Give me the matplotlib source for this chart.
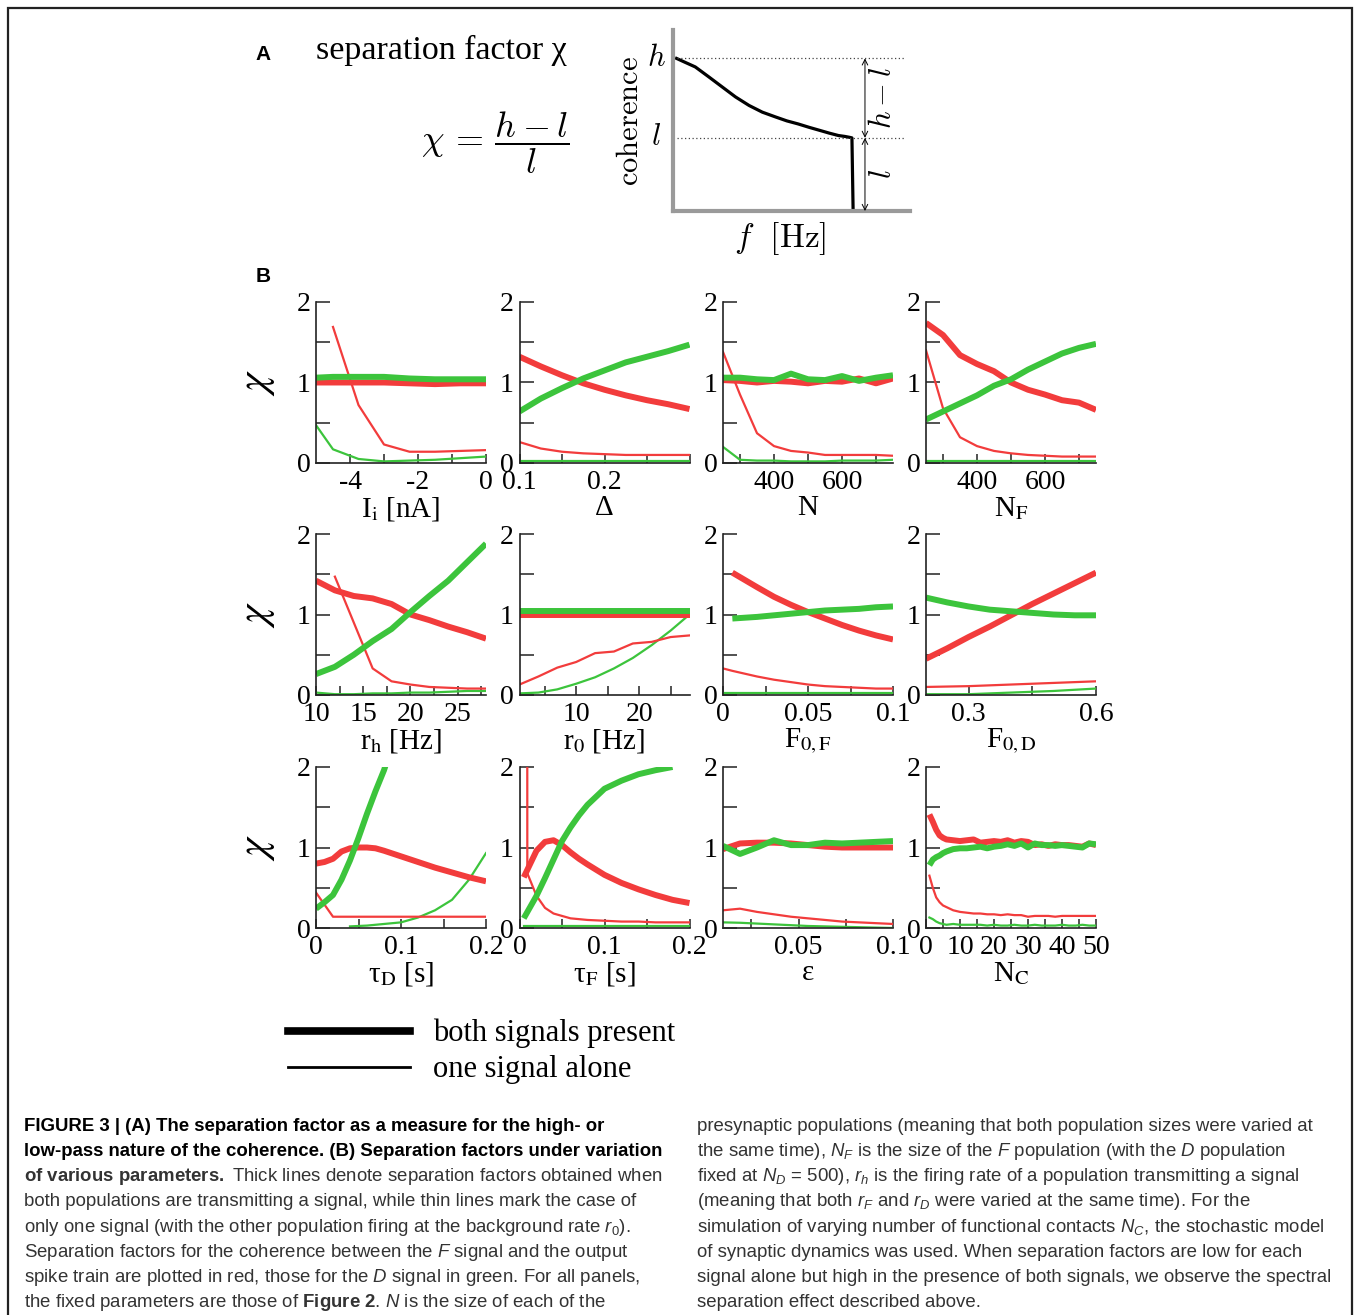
import matplotlib
matplotlib.use('Agg')
import matplotlib.pyplot as plt
import numpy as np
from matplotlib.lines import Line2D
from matplotlib.patches import Rectangle

plt.rcParams['font.family'] = ['Liberation Serif', 'DejaVu Serif']
plt.rcParams['mathtext.fontset'] = 'custom'
plt.rcParams['mathtext.rm'] = 'Liberation Sans'
plt.rcParams['mathtext.it'] = 'Liberation Sans:italic'
plt.rcParams['mathtext.bf'] = 'Liberation Sans:bold'

nan = np.nan

# ---------------- DATA ----------------
# Panel A: schematic coherence curve
coh_f = [0.015, 0.05, 0.094, 0.151, 0.208, 0.264, 0.321, 0.377, 0.434, 0.48, 0.528, 0.575, 0.623, 0.66,
         0.698, 0.725, 0.745, 0.755, 0.760]
coh_val = [0.843, 0.822, 0.796, 0.741, 0.685, 0.630, 0.583, 0.546, 0.519, 0.498, 0.481, 0.462, 0.444, 0.43,
           0.417, 0.412, 0.407, 0.404, 0.0]
h_level = 0.843
l_level = 0.404

# I_i
ii_x = [-5.0, -4.5, -3.75, -3.0, -2.25, -1.5, -0.75, 0.0]
ii_red_both = [1.0, 1.0, 1.0, 1.0, 0.99, 0.98, 0.99, 0.99]
ii_green_both = [1.06, 1.07, 1.07, 1.07, 1.05, 1.04, 1.04, 1.04]
ii_red_one = [nan, 1.69, 0.72, 0.23, 0.14, 0.14, 0.15, 0.16]
ii_green_one = [0.47, 0.17, 0.05, 0.02, 0.03, 0.04, 0.06, 0.08]

# Delta
dl_x = [0.1, 0.125, 0.15, 0.175, 0.2, 0.225, 0.25, 0.275, 0.3]
dl_red_both = [1.32, 1.2, 1.09, 0.99, 0.91, 0.84, 0.78, 0.73, 0.67]
dl_green_both = [0.64, 0.8, 0.93, 1.05, 1.15, 1.25, 1.32, 1.39, 1.47]
dl_red_one = [0.26, 0.18, 0.14, 0.12, 0.11, 0.1, 0.1, 0.1, 0.1]
dl_green_one = [0.03, 0.03, 0.03, 0.03, 0.03, 0.03, 0.03, 0.03, 0.03]

# N
n_x = [250, 300, 350, 400, 450, 500, 550, 600, 650, 700, 750]
n_red_both = [1.03, 1.02, 1.0, 1.02, 1.01, 0.99, 1.02, 1.01, 1.05, 0.99, 1.05]
n_green_both = [1.06, 1.06, 1.04, 1.03, 1.11, 1.04, 1.03, 1.08, 1.02, 1.06, 1.09]
n_red_one = [1.38, 0.85, 0.37, 0.21, 0.15, 0.13, 0.1, 0.1, 0.1, 0.1, 0.09]
n_green_one = [0.2, 0.04, 0.03, 0.03, 0.02, 0.02, 0.02, 0.03, 0.03, 0.03, 0.04]

# N_F
nf_x = [250, 300, 350, 400, 450, 500, 550, 600, 650, 700, 750]
nf_red_both = [1.74, 1.59, 1.34, 1.23, 1.14, 1.0, 0.91, 0.85, 0.78, 0.75, 0.66]
nf_green_both = [0.54, 0.64, 0.74, 0.84, 0.96, 1.04, 1.16, 1.26, 1.36, 1.43, 1.48]
nf_red_one = [1.4, 0.68, 0.32, 0.21, 0.15, 0.12, 0.1, 0.09, 0.08, 0.08, 0.08]
nf_green_one = [0.03, 0.03, 0.03, 0.03, 0.03, 0.03, 0.03, 0.03, 0.03, 0.03, 0.03]

# r_h
rh_x = [10, 12, 14, 16, 18, 20, 22, 24, 26, 28]
rh_red_both = [1.42, 1.3, 1.23, 1.2, 1.13, 1.0, 0.93, 0.85, 0.78, 0.7]
rh_green_both = [0.26, 0.35, 0.5, 0.67, 0.82, 1.03, 1.23, 1.42, 1.65, 1.88]
rh_red_one = [nan, 1.47, 0.9, 0.33, 0.17, 0.13, 0.1, 0.09, 0.08, 0.08]
rh_green_one = [0.03, 0.01, 0.01, 0.02, 0.02, 0.03, 0.03, 0.04, 0.05, 0.05]

# r_0
r0_x = [1, 4, 7, 10, 13, 16, 19, 22, 25, 28]
r0_red_both = [0.99, 0.99, 0.99, 0.99, 0.99, 0.99, 0.99, 0.99, 0.99, 0.99]
r0_green_both = [1.04, 1.04, 1.04, 1.04, 1.04, 1.04, 1.04, 1.04, 1.04, 1.04]
r0_red_one = [0.13, 0.23, 0.34, 0.41, 0.52, 0.54, 0.64, 0.66, 0.72, 0.74]
r0_green_one = [0.02, 0.03, 0.07, 0.14, 0.22, 0.33, 0.46, 0.62, 0.8, 1.0]

# F_0,F
f0f_x = [0.0, 0.0055, 0.02, 0.03, 0.04, 0.05, 0.06, 0.07, 0.08, 0.09, 0.1]
f0f_red_both = [nan, 1.52, 1.34, 1.22, 1.12, 1.03, 0.95, 0.87, 0.8, 0.74, 0.69]
f0f_green_both = [nan, 0.95, 0.97, 0.99, 1.01, 1.03, 1.05, 1.06, 1.07, 1.09, 1.1]
f0f_red_one = [0.33, 0.3, 0.23, 0.19, 0.16, 0.13, 0.11, 0.1, 0.09, 0.08, 0.08]
f0f_green_one = [0.02, 0.02, 0.02, 0.02, 0.02, 0.02, 0.02, 0.02, 0.02, 0.02, 0.02]

# F_0,D
f0d_x = [0.2, 0.25, 0.3, 0.35, 0.4, 0.45, 0.5, 0.55, 0.6]
f0d_red_both = [0.45, 0.58, 0.72, 0.85, 0.99, 1.13, 1.26, 1.39, 1.52]
f0d_green_both = [1.21, 1.15, 1.1, 1.06, 1.04, 1.02, 1.0, 0.99, 0.99]
f0d_red_one = [0.1, 0.105, 0.11, 0.12, 0.13, 0.14, 0.15, 0.16, 0.17]
f0d_green_one = [0.01, 0.01, 0.01, 0.02, 0.03, 0.04, 0.05, 0.065, 0.08]

# tau_D
td_x = [0.0, 0.01, 0.02, 0.03, 0.04, 0.05, 0.06, 0.07, 0.08, 0.1, 0.12, 0.14, 0.16, 0.18, 0.2]
td_red_both = [0.8, 0.82, 0.86, 0.95, 0.99, 1.0, 1.0, 0.99, 0.96, 0.89, 0.82, 0.75, 0.69, 0.63, 0.58]
td_green_both = [0.24, 0.32, 0.41, 0.6, 0.84, 1.12, 1.42, 1.7, 1.96, 2.6, nan, nan, nan, nan, nan]
td_red_one = [0.44, 0.29, 0.14, 0.14, 0.14, 0.14, 0.14, 0.14, 0.14, 0.14, 0.14, 0.14, 0.14, 0.14, 0.14]
td_green_one = [nan, nan, nan, nan, 0.02, 0.025, 0.03, 0.04, 0.05, 0.07, 0.13, 0.22, 0.35, 0.6, 0.93]

# tau_F
tf_x_both = [0.005, 0.02, 0.03, 0.04, 0.05, 0.06, 0.07, 0.08, 0.1, 0.12, 0.14, 0.16, 0.18, 0.2]
tf_red_both = [0.63, 0.96, 1.07, 1.09, 1.03, 0.94, 0.86, 0.79, 0.66, 0.56, 0.48, 0.41, 0.35, 0.31]
tf_green_both = [0.12, 0.4, 0.62, 0.85, 1.08, 1.25, 1.4, 1.53, 1.73, 1.83, 1.91, 1.96, 2.0, nan]
tf_green_one = [0.03, 0.03, 0.03, 0.03, 0.03, 0.03, 0.03, 0.03, 0.03, 0.03, 0.03, 0.03, 0.03, 0.03]
tf_x_one = [0.009, 0.0092, 0.02, 0.03, 0.04, 0.06, 0.08, 0.1, 0.12, 0.14, 0.16, 0.18, 0.2]
tf_red_one = [6.0, 0.68, 0.4, 0.25, 0.18, 0.12, 0.1, 0.09, 0.08, 0.08, 0.07, 0.07, 0.07]

# epsilon
ep_x = [0.01, 0.019, 0.028, 0.037, 0.046, 0.055, 0.064, 0.073, 0.082, 0.091, 0.1]
ep_red_both = [0.98, 1.05, 1.06, 1.06, 1.05, 1.03, 1.01, 1.0, 1.0, 1.0, 1.0]
ep_green_both = [1.02, 0.92, 1.0, 1.09, 1.03, 1.03, 1.06, 1.05, 1.06, 1.07, 1.08]
ep_red_one = [0.22, 0.24, 0.2, 0.17, 0.14, 0.12, 0.1, 0.08, 0.07, 0.06, 0.05]
ep_green_one = [0.07, 0.065, 0.055, 0.045, 0.035, 0.025, 0.02, 0.015, 0.01, 0.005, 0.0]

# N_C
nc_x = [1, 2, 3, 4, 5, 6, 8, 10, 12, 14, 16, 18, 20, 22, 24, 26, 28, 30, 32, 34, 36, 38, 40, 42, 44, 46, 48, 50]
nc_red_both = [1.41, 1.32, 1.22, 1.15, 1.12, 1.1, 1.09, 1.08, 1.09, 1.1, 1.06, 1.07, 1.08, 1.07, 1.09, 1.06,
               1.08, 1.07, 1.03, 1.04, 1.02, 1.04, 1.03, 1.03, 1.02, 1.01, 1.05, 1.03]
nc_green_both = [0.78, 0.85, 0.88, 0.9, 0.93, 0.95, 0.98, 0.99, 0.99, 1.0, 1.01, 0.99, 1.01, 1.02, 1.04, 1.02,
                 1.05, 1.0, 1.05, 1.03, 1.03, 1.02, 1.03, 1.02, 1.01, 1.0, 1.05, 1.04]
nc_red_one = [0.65, 0.5, 0.38, 0.32, 0.28, 0.26, 0.22, 0.2, 0.19, 0.18, 0.18, 0.17, 0.17, 0.16, 0.17, 0.16,
              0.16, 0.14, 0.15, 0.15, 0.15, 0.14, 0.15, 0.15, 0.15, 0.15, 0.15, 0.15]
nc_green_one = [0.13, 0.11, 0.08, 0.06, 0.05, 0.04, 0.05, 0.04, 0.04, 0.04, 0.04, 0.03, 0.04, 0.03, 0.03, 0.04,
                0.03, 0.03, 0.04, 0.03, 0.03, 0.03, 0.04, 0.03, 0.03, 0.04, 0.03, 0.03]

# axis labels, limits, ticks
x_labels = ['I$_\\mathrm{i}$ [nA]', 'Δ', 'N', 'N$_\\mathrm{F}$',
            'r$_\\mathrm{h}$ [Hz]', 'r$_\\mathrm{0}$ [Hz]', 'F$_\\mathrm{0,F}$', 'F$_\\mathrm{0,D}$',
            'τ$_\\mathrm{D}$ [s]', 'τ$_\\mathrm{F}$ [s]', 'ε', 'N$_\\mathrm{C}$']
x_limits = [(-5, 0), (0.1, 0.3), (250, 750), (250, 750),
            (10, 28), (1, 28), (0, 0.1), (0.2, 0.6),
            (0, 0.2), (0, 0.2), (0.01, 0.1), (0, 50)]
x_ticks = [[-4, -3, -2, -1, 0], [0.1, 0.15, 0.2, 0.25, 0.3], [300, 400, 500, 600, 700], [300, 400, 500, 600, 700],
           [10, 12.5, 15, 17.5, 20, 22.5, 25, 27.5], [5, 10, 15, 20, 25], [0, 0.025, 0.05, 0.075, 0.1], [0.3, 0.45, 0.6],
           [0, 0.05, 0.1, 0.15, 0.2], [0, 0.05, 0.1, 0.15, 0.2], [0.025, 0.05, 0.075, 0.1], [0, 5, 10, 15, 20, 25, 30, 35, 40, 45, 50]]
x_ticklabels = [['-4', '', '-2', '', '0'], ['0.1', '', '0.2', '', ''], ['', '400', '', '600', ''], ['', '400', '', '600', ''],
                ['10', '', '15', '', '20', '', '25', ''], ['', '10', '', '20', ''], ['0', '', '0.05', '', '0.1'], ['0.3', '', '0.6'],
                ['0', '', '0.1', '', '0.2'], ['0', '', '0.1', '', '0.2'], ['', '0.05', '', '0.1'],
                ['0', '', '10', '', '20', '', '30', '', '40', '', '50']]
y_ticks = [0, 0.5, 1, 1.5, 2]
y_ticklabels = ['0', '', '1', '', '2']

legend_labels = ['both signals present', 'one signal alone']

cap_left = [
    "FIGURE 3 | (A) The separation factor as a measure for the high- or",
    "low-pass nature of the coherence. (B) Separation factors under variation",
    r"$\mathbf{of\ various\ parameters.}$ Thick lines denote separation factors obtained when",
    "both populations are transmitting a signal, while thin lines mark the case of",
    r"only one signal (with the other population firing at the background rate $r_0$).",
    r"Separation factors for the coherence between the $F$ signal and the output",
    r"spike train are plotted in red, those for the $D$ signal in green. For all panels,",
    r"the fixed parameters are those of $\mathbf{Figure\ 2}$. $N$ is the size of each of the",
]
cap_right = [
    "presynaptic populations (meaning that both population sizes were varied at",
    r"the same time), $N_F$ is the size of the $F$ population (with the $D$ population",
    r"fixed at $N_D$ = 500), $r_h$ is the firing rate of a population transmitting a signal",
    r"(meaning that both $r_F$ and $r_D$ were varied at the same time). For the",
    r"simulation of varying number of functional contacts $N_C$, the stochastic model",
    "of synaptic dynamics was used. When separation factors are low for each",
    "signal alone but high in the presence of both signals, we observe the spectral",
    "separation effect described above.",
]

# ---------------- FIGURE ----------------
W, H = 1354, 1315
fig = plt.figure(figsize=(W / 100, H / 100), dpi=100)
fig.patch.set_facecolor('white')


def fx(px):
    return px / W


def fy(py):
    return 1 - py / H


RED = '#f23c3c'
GREEN = '#3cc43c'
LW_THICK = 4.3
LW_THIN = 1.6

# border
fig.add_artist(Rectangle((fx(8), fy(1340)), fx(1344), (1340 - 8) / H, transform=fig.transFigure,
                         fill=False, lw=1.6, ec='#222222'))

# ----- Panel A -----
fig.text(fx(263), fy(55), 'A', family='Liberation Sans', weight='bold', fontsize=15, ha='center', va='center')
fig.text(fx(263), fy(276), 'B', family='Liberation Sans', weight='bold', fontsize=15, ha='center', va='center')
fig.text(fx(316), fy(50), 'separation factor χ', fontsize=24.5, ha='left', va='center')
fig.text(fx(495), fy(143), r'$\chi\, =\, \dfrac{h-l}{l}$', fontsize=26, ha='center', va='center',
         math_fontfamily='cm')

axA = fig.add_axes([fx(673), fy(211), fx(910) - fx(673), (211 - 30) / H])
axA.plot(coh_f, coh_val, color='black', lw=2.3)
axA.plot([coh_f[0], 0.98], [h_level, h_level], ls=(0, (1, 2)), color='#444444', lw=0.9)
axA.plot([coh_f[0], 0.98], [l_level, l_level], ls=(0, (1, 2)), color='#444444', lw=0.9)
axA.annotate('', xy=(0.81, h_level), xytext=(0.81, l_level), xycoords='axes fraction',
             arrowprops=dict(arrowstyle='<->', lw=0.7, color='black', shrinkA=0, shrinkB=0))
axA.annotate('', xy=(0.81, l_level), xytext=(0.81, 0.0), xycoords='axes fraction',
             arrowprops=dict(arrowstyle='<->', lw=0.7, color='black', shrinkA=0, shrinkB=0))
axA.set_xlim(0, 1)
axA.set_ylim(0, 1)
axA.set_xticks([])
axA.set_yticks([])
for s in ['top', 'right']:
    axA.spines[s].set_visible(False)
for s in ['left', 'bottom']:
    axA.spines[s].set_color('#9a9a9a')
    axA.spines[s].set_linewidth(3)
axA.text(-0.07, h_level, r'$h$', transform=axA.transAxes, fontsize=22, ha='center', va='center', math_fontfamily='cm')
axA.text(-0.07, l_level, r'$l$', transform=axA.transAxes, fontsize=22, ha='center', va='center', math_fontfamily='cm')
axA.text(0.89, (h_level + l_level) / 2, r'$h-l$', transform=axA.transAxes, fontsize=22, ha='center', va='center',
         rotation=90, math_fontfamily='cm')
axA.text(0.89, l_level / 2, r'$l$', transform=axA.transAxes, fontsize=22, ha='center', va='center',
         rotation=90, math_fontfamily='cm')
axA.text(-0.18, 0.5, r'$\mathrm{coherence}$', transform=axA.transAxes, fontsize=22, ha='center', va='center',
         rotation=90, math_fontfamily='cm')
axA.text(0.45, -0.15, r'$f\ \ [\mathrm{Hz}]$', transform=axA.transAxes, fontsize=24, ha='center', va='center',
         math_fontfamily='cm')

# ----- Panel B -----
panels = [
    (ii_x, ii_red_both, ii_green_both, ii_x, ii_red_one, ii_x, ii_green_one),
    (dl_x, dl_red_both, dl_green_both, dl_x, dl_red_one, dl_x, dl_green_one),
    (n_x, n_red_both, n_green_both, n_x, n_red_one, n_x, n_green_one),
    (nf_x, nf_red_both, nf_green_both, nf_x, nf_red_one, nf_x, nf_green_one),
    (rh_x, rh_red_both, rh_green_both, rh_x, rh_red_one, rh_x, rh_green_one),
    (r0_x, r0_red_both, r0_green_both, r0_x, r0_red_one, r0_x, r0_green_one),
    (f0f_x, f0f_red_both, f0f_green_both, f0f_x, f0f_red_one, f0f_x, f0f_green_one),
    (f0d_x, f0d_red_both, f0d_green_both, f0d_x, f0d_red_one, f0d_x, f0d_green_one),
    (td_x, td_red_both, td_green_both, td_x, td_red_one, td_x, td_green_one),
    (tf_x_both, tf_red_both, tf_green_both, tf_x_one, tf_red_one, tf_x_both, tf_green_one),
    (ep_x, ep_red_both, ep_green_both, ep_x, ep_red_one, ep_x, ep_green_one),
    (nc_x, nc_red_both, nc_green_both, nc_x, nc_red_one, nc_x, nc_green_one),
]

col_left = [316, 519.5, 723, 926]
row_top = [302, 534, 767]
ax_w, ax_h = 170, 161

for i, p in enumerate(panels):
    r, c = divmod(i, 4)
    L = col_left[c]
    T = row_top[r]
    ax = fig.add_axes([fx(L), fy(T + ax_h), ax_w / W, ax_h / H])
    xb, rb, gb, xro, ro, xgo, go = p
    ax.plot(xgo, go, color=GREEN, lw=LW_THIN)
    ax.plot(xro, ro, color=RED, lw=LW_THIN)
    ax.plot(xb, rb, color=RED, lw=LW_THICK, solid_capstyle='butt')
    ax.plot(xb, gb, color=GREEN, lw=LW_THICK, solid_capstyle='butt')
    ax.set_xlim(*x_limits[i])
    ax.set_ylim(0, 2)
    ax.set_xticks(x_ticks[i])
    ax.set_xticklabels(x_ticklabels[i])
    ax.set_yticks(y_ticks)
    ax.set_yticklabels(y_ticklabels)
    for s in ['top', 'right']:
        ax.spines[s].set_visible(False)
    for s in ['left', 'bottom']:
        ax.spines[s].set_linewidth(1.2)
        ax.spines[s].set_color('#222222')
    ax.tick_params(direction='in', labelsize=20, width=1.1, color='#222222')
    ax.tick_params(axis='y', length=10, pad=4)
    ax.tick_params(axis='x', length=6.5, pad=5)
    ax.set_xlabel(x_labels[i], fontsize=21, labelpad=0, math_fontfamily='stix')
    if c == 0:
        ax.set_ylabel(r'$\chi$', fontsize=30, math_fontfamily='stix')
        ax.yaxis.set_label_coords(-0.23, 0.5)

# ----- legend -----
handles = [Line2D([], [], color='black', lw=5.5), Line2D([], [], color='black', lw=2.0)]
fig.legend(handles, legend_labels, loc='upper left', bbox_to_anchor=(fx(288), fy(1019)), frameon=False,
           prop={'family': 'Liberation Serif', 'size': 22}, handlelength=4.0, handletextpad=0.75,
           labelspacing=0.22, borderpad=0, borderaxespad=0)

# ----- caption -----
cap_y0 = 1131
cap_dy = 25.15
for k, line in enumerate(cap_left):
    bold = k < 2
    fig.text(fx(24), fy(cap_y0 + k * cap_dy), line, family='Liberation Sans', fontsize=13.4,
             weight='bold' if bold else 'normal', color='black' if bold else '#333333',
             ha='left', va='baseline', math_fontfamily='custom')
for k, line in enumerate(cap_right):
    fig.text(fx(697), fy(cap_y0 + k * cap_dy), line, family='Liberation Sans', fontsize=13.4,
             color='#333333', ha='left', va='baseline', math_fontfamily='custom')

fig.savefig('out.png', dpi=100, facecolor='white')
